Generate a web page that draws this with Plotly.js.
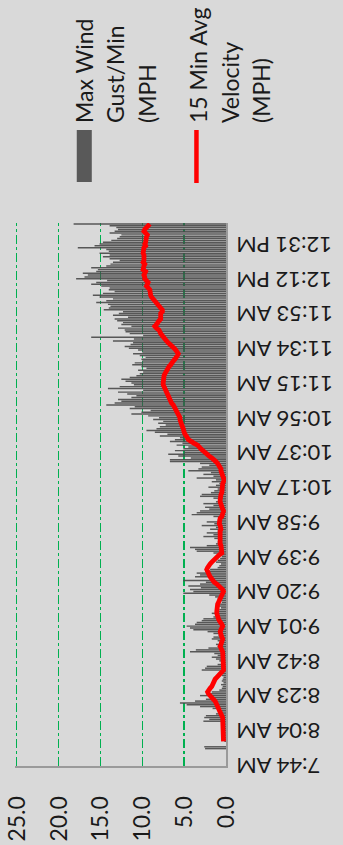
<!DOCTYPE html>
<html>
<head>
<meta charset="utf-8">
<script src="https://cdn.plot.ly/plotly-3.0.1.min.js"></script>
<style>
html,body{margin:0;padding:0;background:#d9d9d9;width:343px;height:845px;overflow:hidden;}
#chart{position:absolute;left:0;top:0;width:845px;height:343px;transform-origin:0 0;transform:translate(0px,845px) rotate(-90deg);}
</style>
</head>
<body>
<div id="chart"></div>
<script>
// Tick labels of the time (category) axis and the category index where each sits
const timeLabels = ['7:44 AM','8:04 AM','8:23 AM','8:42 AM','9:01 AM','9:20 AM','9:39 AM','9:58 AM','10:17 AM','10:37 AM','10:56 AM','11:15 AM','11:34 AM','11:53 AM','12:12 PM','12:31 PM'];
const labelIndex = [0,19,38,57,76,95,114,133,152,171,190,209,228,247,266,285];

// Max Wind Gust / Min (MPH), one value per minute category
const maxGust = [
0,0,0,0,0,0,0,0,0,2.5,
2.6,0,0,0.2,0.3,0.2,0.3,0.2,0.3,0.2,
0.3,0.2,0.4,0.3,2.7,2.0,2.6,2.4,1.2,0.8,
0.5,1.6,3.1,4.7,5.5,3.7,2.4,1.6,3.1,2.3,
1.7,0.8,0.5,0.4,0.6,0.3,0.5,0.4,0.3,0.5,
0.4,0.6,2.9,2.5,2.3,1.0,0.6,0.8,1.2,1.7,
1.0,1.4,4.3,3.6,2.1,1.0,1.2,0.8,1.0,1.7,
1.5,0.9,1.5,2.2,3.9,4.3,4.7,3.7,3.5,2.9,
2.7,1.5,1.2,1.7,1.0,0.8,0.6,0.9,0.7,0.5,
0.8,1.0,1.3,2.0,5.1,3.9,4.3,3.0,4.5,3.1,
2.4,5.1,2.0,3.7,3.1,3.5,2.5,1.9,1.0,0.8,
0.6,1.2,1.0,0.7,0.5,0.8,1.5,3.5,3.7,4.3,
2.3,1.2,1.0,0.8,1.4,2.7,1.5,2.3,1.0,1.9,
1.2,2.9,1.4,2.3,1.0,0.7,1.5,4.1,3.5,3.1,
2.0,2.5,1.5,2.7,1.2,0.8,1.5,3.1,2.9,1.8,
1.4,1.0,2.1,1.2,0.8,1.7,1.2,3.5,1.5,2.7,
1.8,4.5,3.3,2.9,2.0,3.1,6.7,6.7,4.2,5.7,
6.9,5.0,6.1,5.1,4.5,5.9,5.2,6.7,6.1,5.5,
7.9,7.0,8.5,9.5,8.3,7.9,7.2,8.1,7.5,8.7,
8.0,9.3,11.3,10.1,9.0,11.5,10.9,14.3,13.3,12.5,
12.9,11.3,10.7,11.8,12.9,9.9,14.1,12.7,11.0,11.3,
12.0,12.5,11.5,10.7,10.3,9.9,10.5,9.5,10.1,11.2,
10.9,10.0,10.1,9.6,10.3,11.1,10.0,10.5,11.6,12.1,
11.4,11.1,13.5,11.0,16.1,9.9,11.5,12.0,12.1,12.9,
11.3,12.5,12.3,13.0,13.3,11.7,13.5,12.8,12.3,14.6,
14.0,13.8,14.1,15.5,14.3,13.5,15.1,15.9,14.7,13.3,
14.0,13.9,14.9,16.1,15.5,14.2,17.9,16.9,16.5,17.1,
15.5,15.3,16.1,14.3,13.8,13.5,12.7,13.9,14.7,13.9,
15.1,14.0,14.3,17.7,15.7,15.1,14.7,13.7,13.0,12.7,
12.5,13.9,13.3,12.9,13.1,13.9,18.2
];

// 15 Min Avg Velocity (MPH), one value per minute category
const avgVelocity = [
null,null,null,null,null,null,null,null,null,null,
null,null,null,0.3,0.3,0.3,0.3,0.3,0.3,0.3,
0.3,0.3,0.3,0.3,0.35,0.4,0.4,0.5,0.6,0.7,
0.7,0.8,0.9,1.0,1.1,1.3,1.5,1.7,2.0,2.1,
2.2,2.1,1.9,1.7,1.6,1.5,1.5,1.3,1.1,0.9,
0.7,0.5,0.3,0.3,0.3,0.3,0.3,0.3,0.3,0.3,
0.3,0.4,0.4,0.5,0.6,0.7,0.6,0.5,0.5,0.4,
0.5,0.6,0.7,0.7,0.6,0.5,0.4,0.5,0.7,0.8,
0.9,1.0,1.0,1.1,1.1,1.1,1.0,1.0,1.0,0.9,
0.8,0.7,0.6,0.5,0.4,0.3,0.4,0.6,0.8,1.1,
1.4,1.6,1.8,1.9,2.0,2.1,2.2,2.3,2.2,2.1,
1.9,1.7,1.5,1.3,1.1,0.8,0.5,0.5,0.5,0.6,
0.6,0.7,0.7,0.7,0.8,0.8,0.8,0.7,0.7,0.6,
0.6,0.7,0.8,0.8,0.8,0.7,0.5,0.4,0.3,0.3,
0.4,0.5,0.6,0.7,0.7,0.7,0.7,0.7,0.6,0.5,
0.5,0.5,0.5,0.5,0.4,0.3,0.2,0.3,0.4,0.5,
0.5,0.6,0.6,0.7,0.9,1.0,1.2,1.4,1.7,2.0,
2.3,2.6,2.8,3.0,3.2,3.4,3.8,4.2,4.5,4.6,
4.8,4.9,5.0,5.0,5.1,5.2,5.3,5.4,5.4,5.5,
5.5,5.6,5.7,5.8,5.9,6.0,6.1,6.3,6.5,6.6,
6.7,6.8,7.0,7.1,7.1,7.2,7.3,7.4,7.5,7.5,
7.5,7.5,7.4,7.4,7.3,7.2,7.1,7.0,6.8,6.6,
6.5,6.3,6.1,5.9,5.8,5.7,5.8,6.0,6.2,6.5,
6.7,6.9,7.1,7.3,7.5,7.6,7.8,7.9,8.0,8.3,
8.5,8.3,8.2,8.0,7.8,7.8,7.9,7.8,7.6,7.6,
7.8,8.0,8.2,8.3,8.5,8.7,8.9,9.0,9.0,9.1,
9.1,9.3,9.5,9.4,9.3,9.5,9.7,9.7,9.8,9.7,
9.6,9.9,9.9,9.8,9.7,9.9,9.8,9.8,9.7,9.8,
9.9,9.9,9.9,9.8,9.6,9.7,9.6,9.6,9.6,9.5,
9.4,9.7,9.8,9.7,9.5,9.3,9.1
];

const seriesNames = ['Max Wind<br>Gust/Min<br>(MPH', '15 Min Avg<br>Velocity<br>(MPH)'];

const categoryIndex = maxGust.map((_, i) => i);

const FONT = 'Lato, "Liberation Sans", Arial, sans-serif';

const traces = [
  {
    type: 'bar',
    x: categoryIndex,
    y: maxGust,
    name: seriesNames[0],
    marker: {color: 'rgba(72,72,72,0.9)', line: {width: 0}},
    showlegend: false,
    hoverinfo: 'skip'
  },
  {
    type: 'scatter',
    mode: 'lines',
    x: categoryIndex,
    y: avgVelocity,
    name: seriesNames[1],
    line: {color: '#ff0000', width: 4.8},
    connectgaps: false,
    showlegend: false,
    hoverinfo: 'skip'
  }
];

// plot area: x 79..622; value 0 at y=226, value 25 at y=17 (unrotated 845x343 frame)
const YMAX = 25.2;
const PL = 79, PR = 622, PB = 226;
const PT = PB - (PB - 17) * YMAX / 25;
const px = v => (v - PL) / (PR - PL);
const py = v => (PB - v) / (PB - PT);

function legendLines(lines, y0) {
  return lines.map((t, k) => ({
    text: t, xref: 'paper', yref: 'paper',
    x: px(720), y: py(y0 + k * 31.5), xanchor: 'left', yanchor: 'middle',
    showarrow: false, font: {family: FONT, size: 23, color: '#1a1a1a'}
  }));
}

const layout = {
  width: 845, height: 343,
  margin: {l: PL, r: 845 - PR, t: PT, b: 343 - PB, pad: 0},
  paper_bgcolor: '#d9d9d9',
  plot_bgcolor: '#d9d9d9',
  bargap: 0.2,
  font: {family: FONT, size: 23, color: '#1a1a1a'},
  xaxis: {
    range: [-0.5, maxGust.length - 0.5],
    tickmode: 'array', tickvals: labelIndex, ticktext: timeLabels,
    tickangle: -90, ticks: '', ticklabelstandoff: 0,
    showgrid: false, zeroline: false,
    showline: true, linecolor: '#9a9a9a', linewidth: 1.5,
    tickfont: {family: FONT, size: 22, color: '#1a1a1a'},
    fixedrange: true
  },
  yaxis: {
    range: [0, YMAX], tick0: 0, dtick: 5, tickformat: '.1f',
    ticks: '', ticklabelstandoff: 24,
    showgrid: true, gridcolor: '#00b050', griddash: 'dashdot', gridwidth: 1.4,
    zeroline: false,
    showline: true, linecolor: '#9a9a9a', linewidth: 1.5,
    tickfont: {family: FONT, size: 23, color: '#1a1a1a'},
    fixedrange: true
  },
  shapes: [
    {type: 'rect', xref: 'paper', yref: 'paper', x0: px(663), x1: px(715), y0: py(92), y1: py(77),
     fillcolor: '#595959', line: {width: 0}},
    {type: 'line', xref: 'paper', yref: 'paper', x0: px(662), x1: px(715), y0: py(196.5), y1: py(196.5),
     line: {color: '#ff0000', width: 4.5}}
  ],
  annotations: [].concat(
    legendLines(seriesNames[0].split('<br>'), 84),
    legendLines(seriesNames[1].split('<br>'), 198)
  )
};

Plotly.newPlot('chart', traces, layout, {staticPlot: true, displayModeBar: false});
</script>
</body>
</html>
